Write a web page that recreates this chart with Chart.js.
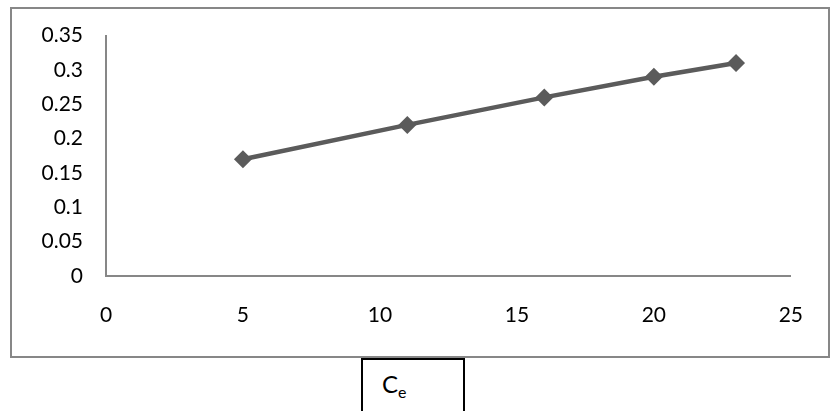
<!DOCTYPE html>
<html>
<head>
<meta charset="utf-8">
<script src="https://cdn.jsdelivr.net/npm/chart.js@4/dist/chart.umd.min.js"></script>
<style>
  html, body { margin: 0; padding: 0; background: #fff; }
  #wrap { position: relative; width: 830px; height: 411px; overflow: hidden; }
  #frame {
    position: absolute; left: 10px; top: 7px; width: 820px; height: 351px;
    box-sizing: border-box; border: 2px solid #878787;
  }
  #titleBox {
    position: absolute; left: 361px; top: 358px; width: 104px; height: 70px;
    box-sizing: border-box; border: 2px solid #000;
  }
  #titleText {
    position: absolute; left: 19px; top: 9px;
    font-family: Lato, sans-serif; font-size: 24px; color: #000; line-height: 30px;
  }
  #titleText sub { font-size: 16px; vertical-align: -5px; line-height: 0; }
  canvas { position: absolute; left: 0; top: 0; }
</style>
</head>
<body>
<div id="wrap">
  <div id="frame"></div>
  <div id="titleBox"><span id="titleText">C<sub>e</sub></span></div>
  <canvas id="chart" width="830" height="411"></canvas>
</div>
<script>
// Equilibrium concentration (x) and measured response (y)
const ceValues = [5, 11, 16, 20, 23];
const yValues = [0.17, 0.22, 0.26, 0.29, 0.31];

// Axis ticks
const xTicks = [0, 5, 10, 15, 20, 25];
const yTicks = [0, 0.05, 0.1, 0.15, 0.2, 0.25, 0.3, 0.35];

const points = ceValues.map((x, i) => ({ x: x, y: yValues[i] }));

const axisColor = '#878787';
const seriesColor = '#5b5b5b';
const tickFont = { family: 'Lato', size: 21 };

new Chart(document.getElementById('chart'), {
  type: 'line',
  data: {
    datasets: [{
      data: points,
      borderColor: seriesColor,
      backgroundColor: seriesColor,
      borderWidth: 4.5,
      pointStyle: 'rectRot',
      pointRadius: 9,
      pointBorderWidth: 0,
      pointBackgroundColor: seriesColor,
      tension: 0,
      fill: false
    }]
  },
  options: {
    responsive: false,
    animation: false,
    devicePixelRatio: 1,
    layout: { padding: { top: 35, right: 28, left: 0, bottom: 0 } },
    plugins: { legend: { display: false }, tooltip: { enabled: false } },
    scales: {
      x: {
        type: 'linear',
        min: xTicks[0],
        max: xTicks[xTicks.length - 1],
        afterBuildTicks: s => { s.ticks = xTicks.map(v => ({ value: v })); },
        afterFit: s => { s.height = 135; },
        grid: { display: false, drawTicks: false },
        border: { display: true, color: axisColor, width: 2 },
        ticks: {
          color: '#000',
          font: tickFont,
          padding: 27,
          maxRotation: 0,
          callback: v => String(v)
        }
      },
      y: {
        type: 'linear',
        min: yTicks[0],
        max: yTicks[yTicks.length - 1],
        afterBuildTicks: s => { s.ticks = yTicks.map(v => ({ value: v })); },
        afterFit: s => { s.width = 106; },
        grid: { display: false, drawTicks: false },
        border: { display: true, color: axisColor, width: 2 },
        ticks: {
          color: '#000',
          font: tickFont,
          padding: 23,
          callback: v => String(v)
        }
      }
    }
  }
});
</script>
</body>
</html>
